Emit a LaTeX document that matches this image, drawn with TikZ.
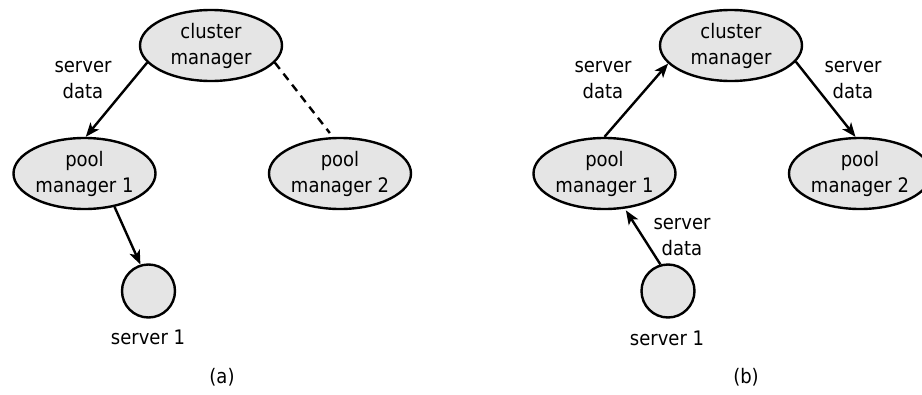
\documentclass[tikz,border=0pt]{standalone}
\usepackage{fontspec}
\setmainfont{DejaVu Sans Condensed}
\usetikzlibrary{shapes.geometric,arrows.meta}
\begin{document}
\begin{tikzpicture}[x=1pt,y=-1pt,
  font=\fontsize{20}{26}\selectfont,
  every node/.style={inner sep=0pt},
  ell/.style={ellipse,draw,line width=2.4pt,fill=black!10,minimum width=142pt,minimum height=71pt,align=center},
  srv/.style={circle,draw,line width=2.4pt,fill=black!10,minimum size=53pt},
  lbl/.style={align=center},
  arr/.style={line width=2.4pt,-{Stealth[length=14pt,width=11pt,inset=3.5pt]}},
  dsh/.style={line width=2.4pt,dash pattern=on 8pt off 6pt}]
\useasboundingbox (0,0) rectangle (922,394);
% (a)
\node[ell] (cmA) at (211,45.5) {cluster\\manager};
\node[ell] (p1A) at (84.5,173.5) {pool\\manager 1};
\node[ell] (p2A) at (340,173.5) {pool\\manager 2};
\node[srv] (s1A) at (148.5,291) {};
\node[lbl] (sdA) at (83,80) {server\\data};
\node (s1lA) at (148,337) {server 1};
\node (capA) at (222,377) {(a)};
\draw[arr] (cmA.195) -- (p1A.88);
\draw[dsh,shorten >=5pt] (cmA.345) -- (p2A.101);
\draw[arr] (p1A.312) -- (s1A.107);
% (b)
\node[ell] (cmB) at (731,45.5) {cluster\\manager};
\node[ell] (p1B) at (604.5,173.5) {pool\\manager 1};
\node[ell] (p2B) at (860,173.5) {pool\\manager 2};
\node[srv] (s1B) at (668,291) {};
\node[lbl] (sdB1) at (603,80) {server\\data};
\node[lbl] (sdB2) at (853,80) {server\\data};
\node[lbl] (sdB3) at (682,237) {server\\data};
\node (s1lB) at (667,338) {server 1};
\node (capB) at (746,377) {(b)};
\draw[arr] (p1B.north) -- (cmB.196);
\draw[arr] (cmB.346) -- (p2B.97);
\draw[arr,shorten >=2pt] (s1B.106) -- (p1B.300);
\end{tikzpicture}
\end{document}
